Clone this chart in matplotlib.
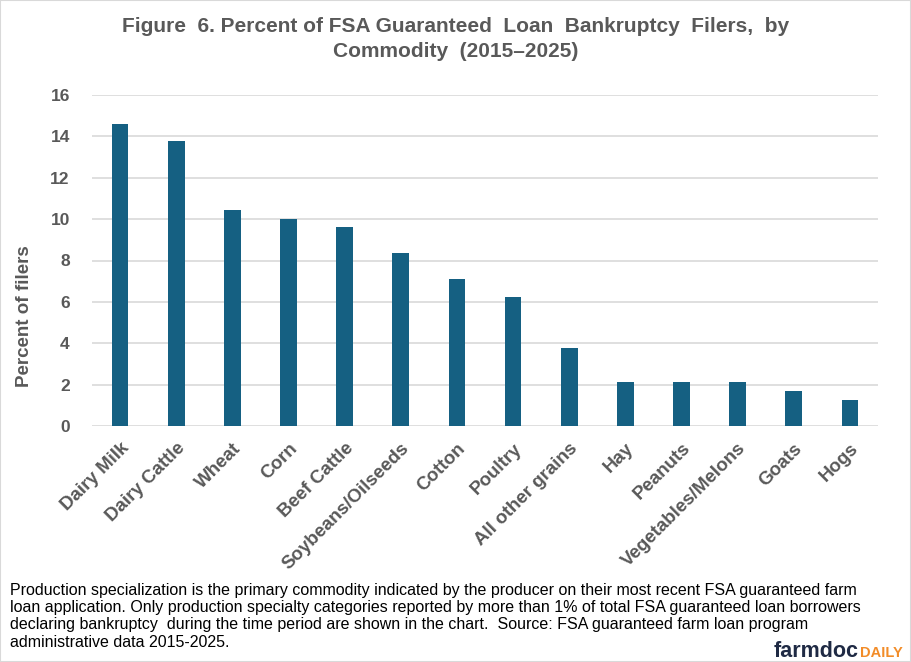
import matplotlib.pyplot as plt
import matplotlib.transforms as mtransforms
from matplotlib.patches import Rectangle
import numpy as np

plt.rcParams['font.family'] = ['Liberation Sans', 'DejaVu Sans']

# Commodity categories and percent of filers
commodities = ["Dairy Milk", "Dairy Cattle", "Wheat", "Corn", "Beef Cattle",
               "Soybeans/Oilseeds", "Cotton", "Poultry", "All other grains",
               "Hay", "Peanuts", "Vegetables/Melons", "Goats", "Hogs"]
percent_filers = [14.61, 13.77, 10.45, 10.02, 9.63, 8.35, 7.11, 6.24, 3.77,
                  2.11, 2.11, 2.11, 1.67, 1.28]
y_ticks = [0, 2, 4, 6, 8, 10, 12, 14, 16]

title = "Figure  6. Percent of FSA Guaranteed  Loan  Bankruptcy  Filers,  by\nCommodity  (2015\u20132025)"
note_lines = ["Production specialization is the primary commodity indicated by the producer on their most recent FSA guaranteed farm",
              "loan application. Only production specialty categories reported by more than 1% of total FSA guaranteed loan borrowers",
              "declaring bankruptcy  during the time period are shown in the chart.  Source: FSA guaranteed farm loan program",
              "administrative data 2015-2025."]

gray = "#595959"
bar_color = "#156082"

fig = plt.figure(figsize=(9.11, 6.62), dpi=100)
ax = fig.add_axes([92 / 911, 1 - 426 / 662, 786 / 911, 331 / 662])

x = np.arange(len(commodities))
ax.bar(x, percent_filers, width=0.3, color=bar_color, zorder=3)

ax.set_xlim(-0.5, len(commodities) - 0.5)
ax.set_ylim(0, 16)
ax.set_yticks(y_ticks)
ax.set_yticklabels([str(v) for v in y_ticks], fontsize=12.5, fontweight='bold', color=gray)
ax.set_xticks(x)
ax.set_xticklabels(commodities, rotation=45, ha='right', rotation_mode='anchor',
                   fontsize=13.5, fontweight='bold', color=gray)
shift = mtransforms.ScaledTranslation(-4 / 100, 0, fig.dpi_scale_trans)
for lbl in ax.get_xticklabels():
    lbl.set_transform(lbl.get_transform() + shift)
ax.tick_params(axis='both', length=0)
ax.tick_params(axis='y', pad=16)
ax.tick_params(axis='x', pad=10)
ax.grid(axis='y', color='#d9d9d9', linewidth=1.2, zorder=0)
for s in ax.spines.values():
    s.set_visible(False)

fig.text(25 / 911, 1 - 316 / 662, "Percent of filers", rotation=90, ha='center', va='center',
         fontsize=13.5, fontweight='bold', color=gray)

fig.text(0.5, 1 - 39 / 662, title, ha='center', va='center', fontsize=15,
         fontweight='bold', color=gray, linespacing=1.4)

# footnote, one text per line
line_y = [590, 607.5, 625, 642.5]
for txt, yy in zip(note_lines, line_y):
    fig.text(10 / 911, 1 - yy / 662, txt, ha='left', va='center', fontsize=11.5, color='black')

fig.text(774 / 911, 1 - 657 / 662, "farmdoc", ha='left', va='baseline', fontsize=15.5,
         fontweight='bold', color='#1f2a44')
fig.text(860 / 911, 1 - 657 / 662, "DAILY", ha='left', va='baseline', fontsize=10.5,
         fontweight='bold', color='#f28c28')

fig.patches.append(Rectangle((0, 0), 1, 1, transform=fig.transFigure, fill=False,
                             edgecolor='#d9d9d9', linewidth=1.5))

fig.savefig("out.png", dpi=100)
